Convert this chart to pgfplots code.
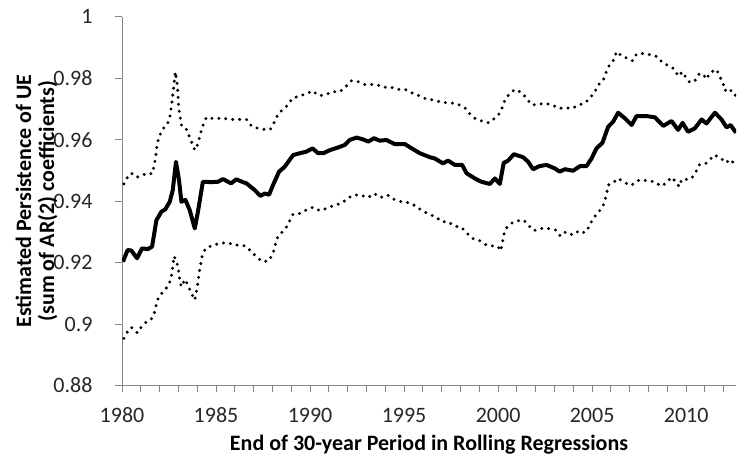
\documentclass[border=0pt]{standalone}
\usepackage{pgfplots}
\pgfplotsset{compat=1.18}
\usepackage{pgfplotstable}
\usepackage{fontspec}
\setmainfont{Carlito}
\definecolor{axgray}{HTML}{868686}

\pgfplotstableread{
x y
1980.05 0.9203
1980.3 0.9241
1980.5 0.9239
1980.8 0.9214
1981.06 0.9246
1981.38 0.9244
1981.6 0.9252
1981.83 0.9338
1982.1 0.9366
1982.3 0.9373
1982.54 0.9398
1982.7 0.9436
1982.87 0.9528
1983.03 0.9469
1983.16 0.9398
1983.37 0.9404
1983.6 0.9371
1983.87 0.9311
1984.04 0.9366
1984.3 0.9463
1984.75 0.9462
1985.1 0.9463
1985.37 0.9472
1985.8 0.9458
1986.08 0.9471
1986.43 0.9462
1986.62 0.9458
1987.06 0.9436
1987.36 0.9417
1987.59 0.9425
1987.82 0.9421
1988.03 0.9452
1988.35 0.9496
1988.65 0.9512
1989.1 0.9550
1989.45 0.9556
1989.8 0.9561
1990.13 0.9572
1990.43 0.9556
1990.7 0.9556
1991.05 0.9566
1991.5 0.9575
1991.85 0.9583
1992.1 0.9599
1992.47 0.9607
1992.82 0.9601
1993.1 0.9594
1993.4 0.9605
1993.7 0.9597
1994.06 0.9599
1994.5 0.9586
1995.04 0.9586
1995.4 0.9572
1995.84 0.9556
1996.37 0.9543
1996.63 0.9539
1997.07 0.9523
1997.34 0.9532
1997.7 0.9518
1998.09 0.9518
1998.32 0.9491
1998.76 0.9474
1999.12 0.9463
1999.56 0.9456
1999.83 0.9474
2000.09 0.9456
2000.3 0.9525
2000.53 0.9532
2000.84 0.9553
2001.33 0.9543
2001.6 0.9528
2001.86 0.9504
2002.2 0.9514
2002.57 0.9518
2003.0 0.9507
2003.28 0.9496
2003.55 0.9504
2003.99 0.9499
2004.35 0.9514
2004.7 0.9514
2004.97 0.9539
2005.23 0.9572
2005.55 0.9590
2005.85 0.9642
2006.12 0.9659
2006.38 0.9688
2006.74 0.9670
2007.1 0.9648
2007.36 0.9677
2007.9 0.9677
2008.34 0.9673
2008.78 0.9645
2009.22 0.9661
2009.57 0.9632
2009.81 0.9655
2010.1 0.9626
2010.46 0.9637
2010.82 0.9666
2011.08 0.9653
2011.53 0.9688
2011.88 0.9666
2012.15 0.9640
2012.36 0.9648
2012.65 0.9623
}\estimatetab

\pgfplotstableread{
x y
1980.1 0.9456
1980.29 0.9478
1980.5 0.9491
1980.77 0.9478
1981.03 0.9482
1981.3 0.9491
1981.6 0.9489
1981.7 0.9512
1981.78 0.9539
1981.86 0.9583
1981.97 0.9610
1982.2 0.9637
1982.4 0.9648
1982.54 0.9673
1982.66 0.9724
1982.75 0.9773
1982.84 0.9821
1982.95 0.9773
1983.02 0.9702
1983.16 0.9648
1983.37 0.9642
1983.55 0.9615
1983.69 0.9594
1983.87 0.9566
1984.01 0.9583
1984.13 0.9610
1984.26 0.9640
1984.49 0.9673
1984.93 0.9668
1985.32 0.9671
1985.73 0.9666
1986.26 0.9666
1986.62 0.9666
1986.88 0.9645
1987.24 0.9637
1987.54 0.9634
1987.89 0.9634
1988.12 0.9659
1988.3 0.9684
1988.56 0.9699
1988.83 0.9713
1989.06 0.9735
1989.41 0.9742
1989.77 0.9749
1990.13 0.9759
1990.48 0.9743
1990.87 0.9748
1991.22 0.9756
1991.58 0.9756
1991.9 0.9773
1992.2 0.9792
1992.55 0.9789
1992.91 0.9780
1993.53 0.9780
1993.88 0.9771
1994.29 0.9771
1994.68 0.9764
1995.04 0.9764
1995.4 0.9753
1995.84 0.9742
1996.2 0.9732
1996.6 0.9729
1996.99 0.9722
1997.6 0.9719
1997.96 0.9713
1998.23 0.9704
1998.5 0.9684
1998.76 0.9670
1999.08 0.9662
1999.5 0.9655
1999.8 0.9669
2000.0 0.9680
2000.18 0.9697
2000.3 0.9721
2000.48 0.9740
2000.71 0.9756
2000.94 0.9764
2001.3 0.9751
2001.54 0.9732
2001.81 0.9713
2002.13 0.9715
2002.48 0.9719
2002.89 0.9713
2003.24 0.9702
2003.55 0.9704
2003.94 0.9702
2004.26 0.9713
2004.61 0.9719
2004.88 0.9735
2005.14 0.9756
2005.32 0.9778
2005.59 0.9794
2005.73 0.9818
2005.9 0.9840
2006.12 0.9857
2006.3 0.9887
2006.62 0.9870
2006.92 0.9865
2007.15 0.9857
2007.36 0.9879
2007.71 0.9881
2008.16 0.9876
2008.48 0.9870
2008.74 0.9851
2009.1 0.9840
2009.4 0.9829
2009.57 0.9807
2009.81 0.9821
2009.98 0.9803
2010.2 0.9786
2010.46 0.9792
2010.69 0.9814
2010.9 0.9814
2011.08 0.9797
2011.26 0.9818
2011.61 0.9829
2011.78 0.9807
2011.96 0.9784
2012.05 0.9760
2012.31 0.9767
2012.52 0.9745
2012.65 0.9745
}\uppertab

\pgfplotstableread{
x y
1980.1 0.8953
1980.29 0.8975
1980.5 0.8989
1980.82 0.8971
1981.06 0.8993
1981.3 0.9007
1981.6 0.9018
1981.74 0.9040
1981.83 0.9065
1981.95 0.9089
1982.24 0.9108
1982.45 0.9124
1982.6 0.9145
1982.66 0.9170
1982.77 0.9221
1982.86 0.9208
1982.98 0.9186
1983.07 0.9143
1983.16 0.9121
1983.34 0.9145
1983.51 0.9127
1983.65 0.9105
1983.87 0.9078
1984.01 0.9121
1984.13 0.9176
1984.26 0.9221
1984.44 0.9246
1984.84 0.9257
1985.25 0.9263
1985.64 0.9265
1985.96 0.9257
1986.26 0.9257
1986.58 0.9254
1986.88 0.9235
1987.18 0.9217
1987.47 0.9203
1987.82 0.9206
1988.03 0.9230
1988.24 0.9279
1988.48 0.9297
1988.7 0.9311
1988.92 0.9336
1989.1 0.9358
1989.45 0.9360
1989.8 0.9371
1990.16 0.9380
1990.52 0.9369
1990.9 0.9377
1991.31 0.9387
1991.67 0.9393
1991.94 0.9406
1992.29 0.9420
1992.64 0.9420
1993.09 0.9412
1993.4 0.9425
1993.76 0.9412
1994.12 0.9420
1994.47 0.9406
1994.86 0.9398
1995.25 0.9395
1995.6 0.9385
1995.96 0.9369
1996.31 0.9358
1996.67 0.9349
1997.02 0.9333
1997.34 0.9333
1997.66 0.9319
1998.05 0.9315
1998.32 0.9297
1998.62 0.9279
1999.03 0.9271
1999.38 0.9257
1999.73 0.9254
2000.0 0.9252
2000.13 0.9238
2000.23 0.9265
2000.3 0.9290
2000.41 0.9311
2000.71 0.9328
2001.01 0.9336
2001.37 0.9338
2001.65 0.9319
2001.9 0.9304
2002.26 0.9311
2002.66 0.9311
2003.07 0.9306
2003.32 0.9286
2003.6 0.9300
2003.96 0.9290
2004.31 0.9304
2004.61 0.9297
2004.84 0.9317
2005.02 0.9341
2005.27 0.9360
2005.55 0.9380
2005.68 0.9401
2005.77 0.9425
2005.85 0.9452
2006.12 0.9460
2006.38 0.9474
2006.68 0.9463
2006.97 0.9452
2007.22 0.9456
2007.5 0.9469
2007.93 0.9467
2008.34 0.9463
2008.64 0.9449
2008.92 0.9458
2009.22 0.9478
2009.45 0.9463
2009.63 0.9447
2009.76 0.9471
2010.05 0.9471
2010.29 0.9474
2010.52 0.9496
2010.69 0.9518
2011.0 0.9521
2011.23 0.9532
2011.47 0.9550
2011.79 0.9543
2012.11 0.9525
2012.36 0.9536
2012.65 0.9514
}\lowertab

\begin{document}
\begin{tikzpicture}
\begin{axis}[
  scale only axis,
  width=614pt, height=368.5pt,
  xmin=1980, xmax=2012.65,
  ymin=0.88, ymax=1,
  axis x line=bottom, axis y line=left,
  axis line style={axgray, line width=0.9pt, -},
  tick style={axgray, line width=0.9pt},
  tick align=outside,
  major tick length=7pt,
  minor tick length=7pt,
  xtick={1980,1985,...,2010},
  minor xtick={1980,...,2012},
  ytick={0.88,0.9,...,1.0},
  /pgf/number format/assume math mode=true,
  xticklabel style={/pgf/number format/1000 sep={}, font=\fontsize{22}{26}\selectfont, text=black!85, yshift=-12pt},
  yticklabel style={/pgf/number format/fixed, /pgf/number format/precision=2, font=\fontsize{22}{26}\selectfont, text=black!85, xshift=-19pt},
  xlabel={End of 30-year Period in Rolling Regressions},
  xlabel style={font=\bfseries\fontsize{22}{26}\selectfont, at={(axis description cs:0.5,0)}, anchor=base, yshift=-65pt},
  ylabel={Estimated Persistence of UE\\(sum of AR(2) coefficients)},
  ylabel style={font=\bfseries\fontsize{22}{23}\selectfont, align=center, at={(axis description cs:-0.1392,0.5)}, anchor=center},
  every axis plot/.append style={no markers},
]
\addplot[black, line width=4pt, line join=round] table[x=x,y=y] {\estimatetab};
\addplot[black, line width=3.3pt, line cap=round, dash pattern=on 0pt off 7pt] table[x=x,y=y] {\uppertab};
\addplot[black, line width=3.3pt, line cap=round, dash pattern=on 0pt off 7pt] table[x=x,y=y] {\lowertab};
\end{axis}
\pgfresetboundingbox
\path[use as bounding box] ([shift={(-122pt,-69.6pt)}]current axis.south west) rectangle ([shift={(1pt,16.9pt)}]current axis.north east);
\end{tikzpicture}
\end{document}
